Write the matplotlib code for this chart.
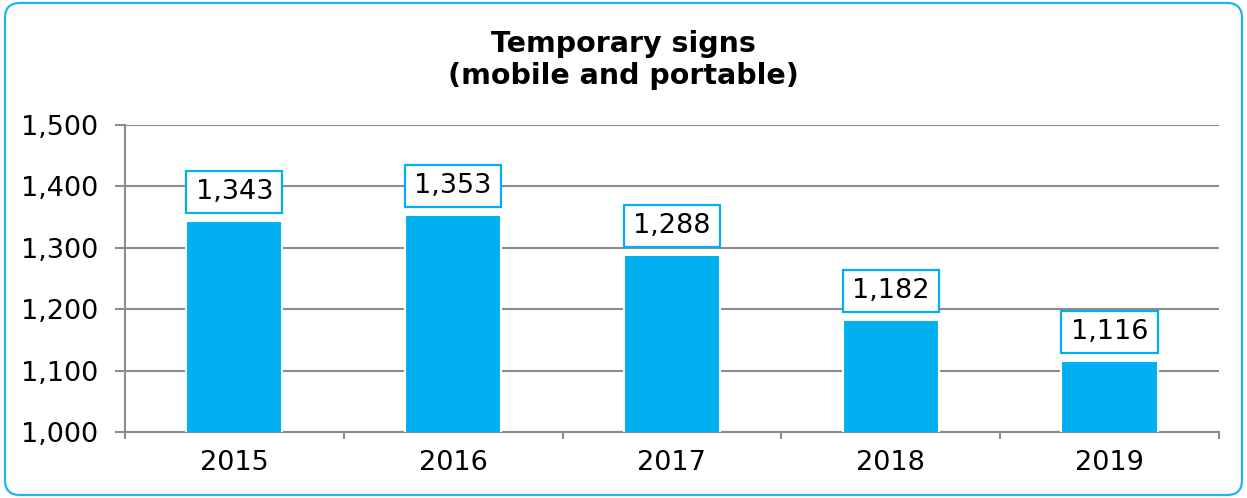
import matplotlib
matplotlib.use("Agg")
import matplotlib.pyplot as plt
from matplotlib.patches import FancyBboxPatch, Rectangle
import matplotlib.patheffects as pe

years = ["2015", "2016", "2017", "2018", "2019"]
values = [1343, 1353, 1288, 1182, 1116]
y_ticks = [1000, 1100, 1200, 1300, 1400, 1500]

BLUE = "#00B0F0"
GRID = "#8C8C8C"
DPI = 100
FS = 19.5

plt.rcParams['font.family'] = ['DejaVu Sans']

fig = plt.figure(figsize=(12.47, 4.98), dpi=DPI)
fig.patch.set_facecolor("white")

border = FancyBboxPatch((0.004, 0.006), 0.992, 0.988,
                        boxstyle="round,pad=0,rounding_size=0.012",
                        transform=fig.transFigure, facecolor="none",
                        edgecolor="#1FB4EC", linewidth=1.6, zorder=-1,
                        mutation_aspect=1247/498)
fig.patches.append(border)

ax_pos = [0.1002, 0.1325, 0.8773, 0.6165]
ax = fig.add_axes(ax_pos)
ax.set_facecolor("none")

x = list(range(len(years)))
bar_w = 0.44
bars = ax.bar(x, values, width=bar_w, color=BLUE, edgecolor="white",
              linewidth=1.5, zorder=3)
for b in bars:
    b.set_path_effects([pe.SimplePatchShadow(offset=(0, 0), shadow_rgbFace="#B0B0B0", alpha=0.6),
                        pe.Normal()])

ymin, ymax = 1000, 1500
ax.set_ylim(ymin, ymax)
ax.set_xlim(-0.5, len(years) - 0.5)
ax.set_yticks(y_ticks)
ax.set_yticklabels([f"{v:,}" for v in y_ticks], fontsize=FS)
ax.set_xticks(x)
ax.set_xticklabels(years, fontsize=FS)
ax.set_xticks([i - 0.5 for i in range(len(years) + 1)], minor=True)

ax.yaxis.grid(True, color=GRID, linewidth=1.5, zorder=1)
ax.set_axisbelow(True)
for s in ["top", "right"]:
    ax.spines[s].set_visible(False)
for s in ["left", "bottom"]:
    ax.spines[s].set_color(GRID)
    ax.spines[s].set_linewidth(1.5)

ax.tick_params(axis="y", length=7, width=1.5, color=GRID, pad=12, labelcolor="black")
ax.tick_params(axis="x", which="major", length=0, pad=13, labelcolor="black")
ax.tick_params(axis="x", which="minor", length=5, width=1.5, color=GRID, direction="out")

# label boxes: pixel sizes converted to data units
ax_h_px = fig.get_figheight() * DPI * ax_pos[3]
px = (ymax - ymin) / ax_h_px
gap, box_h = 8 * px, 42 * px
for xi, v in zip(x, values):
    rect = Rectangle((xi - bar_w / 2, v + gap), bar_w, box_h, facecolor="white",
                     edgecolor=BLUE, linewidth=1.6, zorder=5, clip_on=False)
    ax.add_patch(rect)
    ax.text(xi, v + gap + box_h / 2, f"{v:,}", ha="center", va="center",
            fontsize=FS, color="black", zorder=6)

fig.text(0.5, 0.88, "Temporary signs\n(mobile and portable)", ha="center", va="center",
         fontsize=20.5, fontweight="bold", linespacing=1.2)

fig.savefig("out.png", dpi=DPI)
